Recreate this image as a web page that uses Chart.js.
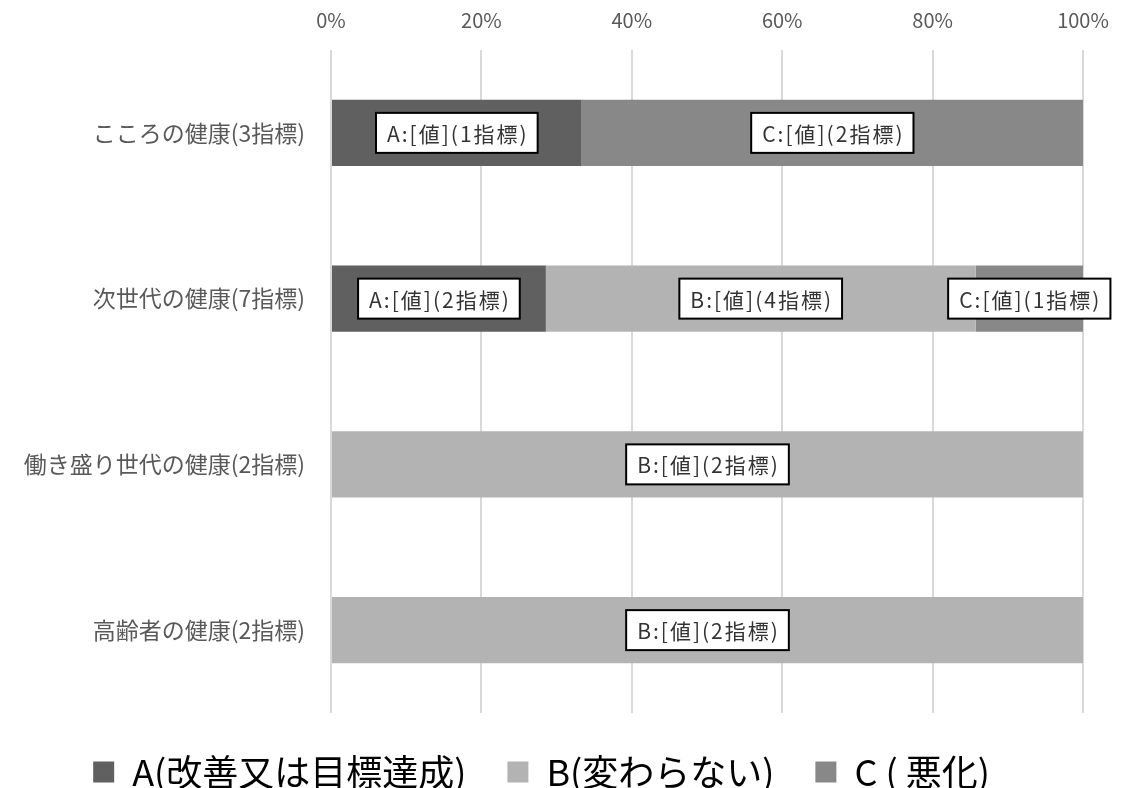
<!DOCTYPE html>
<html>
<head>
<meta charset="utf-8">
<script src="https://cdn.jsdelivr.net/npm/chart.js@4.4.0/dist/chart.umd.min.js"></script>
<style>
    body{margin:0;background:#fff;}
    #box{width:1134px;height:788px;}
</style>
</head>
<body>
<div id="box"><canvas id="kaart"></canvas></div>
<script>
// categories and indicator counts per rating
let categories = ['こころの健康(3指標)','次世代の健康(7指標)','働き盛り世代の健康(2指標)','高齢者の健康(2指標)']
let countA = [1, 2, 0, 0]
let countB = [0, 4, 2, 2]
let countC = [2, 1, 0, 0]
let seriesLabels = ['A(改善又は目標達成)','B(変わらない)','C ( 悪化)']
let seriesKeys = ['A','B','C']
let colors = ['#606060','#b3b3b3','#888888']
let fontName = '"Noto Sans CJK JP", "Noto Sans", sans-serif'

// 100% stacked: share of each row
function share(counts){
    return counts.map((v, i) => v / (countA[i] + countB[i] + countC[i]) * 100)
}

// white boxed labels in the middle of every segment
let boxLabels = {
    id: 'boxLabels',
    afterDatasetsDraw(chart){
        let ctx = chart.ctx
        ctx.save()
        ctx.font = '21px ' + fontName
        if ('letterSpacing' in ctx) ctx.letterSpacing = '2px'
        ctx.textAlign = 'center'
        ctx.textBaseline = 'middle'
        chart.data.datasets.forEach((ds, di) => {
            let meta = chart.getDatasetMeta(di)
            meta.data.forEach((bar, i) => {
                let n = ds.counts[i]
                if (!n) return
                let txt = seriesKeys[di] + ':[値](' + n + '指標)'
                let cx = (bar.x + bar.base) / 2
                let cy = bar.y
                let w = ctx.measureText(txt).width + 20
                let h = 40
                ctx.fillStyle = '#fff'
                ctx.fillRect(cx - w / 2, cy - h / 2, w, h)
                ctx.lineWidth = 2
                ctx.strokeStyle = '#000'
                ctx.strokeRect(cx - w / 2, cy - h / 2, w, h)
                ctx.fillStyle = '#333'
                ctx.fillText(txt, cx + 1, cy + 1)
            })
        })
        ctx.restore()
    }
}

let kaart = document.getElementById('kaart').getContext('2d')
let chart = new Chart(kaart, {
    type: 'bar',
    data: {
        labels: categories,
        datasets: [{
            label: seriesLabels[0],
            data: share(countA),
            counts: countA,
            backgroundColor: colors[0]
        }, {
            label: seriesLabels[1],
            data: share(countB),
            counts: countB,
            backgroundColor: colors[1]
        }, {
            label: seriesLabels[2],
            data: share(countC),
            counts: countC,
            backgroundColor: colors[2]
        }]
    },
    options: {
        indexAxis: 'y',
        responsive: true,
        maintainAspectRatio: false,
        animation: false,
        categoryPercentage: 0.8,
        barPercentage: 0.5,
        borderWidth: 0,
        layout: {padding: {left: 0, right: 51, top: 0, bottom: 0}},
        scales: {
            x: {
                position: 'top',
                stacked: true,
                min: 0,
                max: 100,
                afterFit(scale){ scale.height = 50 },
                ticks: {
                    stepSize: 20,
                    padding: 18,
                    color: '#595959',
                    font: {family: fontName, size: 20},
                    callback: v => v + '%'
                },
                grid: {color: '#d9d9d9', lineWidth: 2, drawTicks: false},
                border: {display: false}
            },
            y: {
                stacked: true,
                afterFit(scale){ scale.width = 331 },
                ticks: {
                    padding: 26,
                    color: '#595959',
                    font: {family: fontName, size: 23}
                },
                grid: {display: false, drawTicks: false},
                border: {display: false}
            }
        },
        plugins: {
            legend: {
                position: 'bottom',
                maxHeight: 75,
                labels: {
                    boxWidth: 21,
                    boxHeight: 21,
                    padding: 41,
                    color: '#000',
                    font: {family: fontName, size: 36}
                }
            },
            tooltip: {enabled: false}
        }
    },
    plugins: [boxLabels]
})
</script>
</body>
</html>
